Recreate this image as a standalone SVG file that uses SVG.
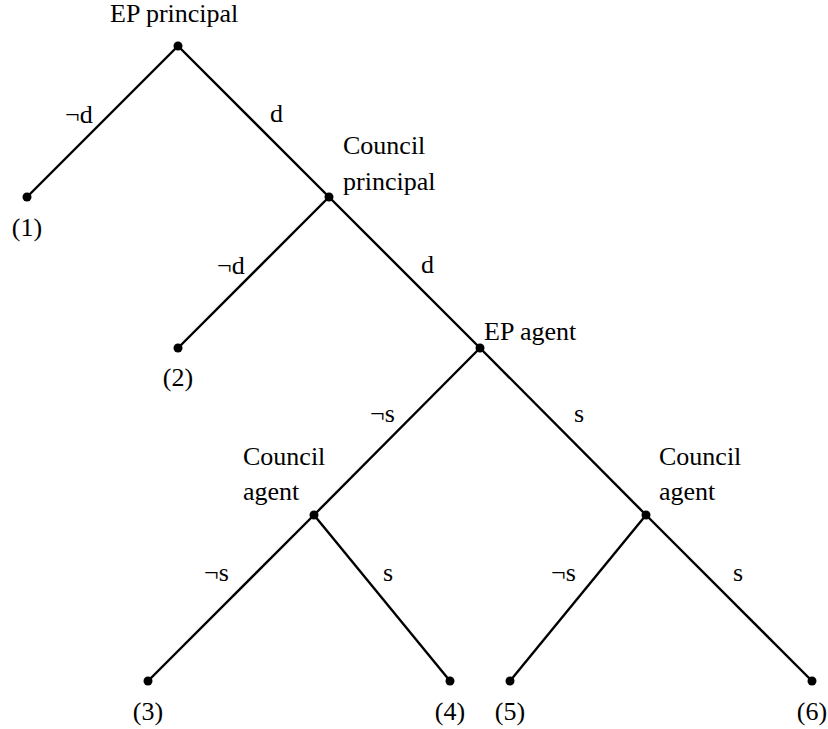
<svg xmlns="http://www.w3.org/2000/svg" width="828" height="729" viewBox="0 0 828 729">
<defs>
<style type="text/css">
.t{font-family:"Liberation Serif","DejaVu Serif",serif;font-size:26px;fill:#000}
.leaf{text-anchor:middle}
.edge{stroke:#000;stroke-width:2.4;fill:none}
.dot{fill:#000}
</style>
</defs>
<rect width="828" height="729" fill="#fff"/>
<g id="connectors">
<line class="edge" x1="178" y1="46" x2="27" y2="197"/>
<line class="edge" x1="178" y1="46" x2="329" y2="197"/>
<line class="edge" x1="329" y1="197" x2="178" y2="348"/>
<line class="edge" x1="329" y1="197" x2="480" y2="348"/>
<line class="edge" x1="480" y1="348" x2="314" y2="515"/>
<line class="edge" x1="480" y1="348" x2="646" y2="515"/>
<line class="edge" x1="314" y1="515" x2="148" y2="681"/>
<line class="edge" x1="314" y1="515" x2="450" y2="681"/>
<line class="edge" x1="646" y1="515" x2="510" y2="681"/>
<line class="edge" x1="646" y1="515" x2="812" y2="681"/>
<text class="t" x="65" y="123">¬d</text>
<text class="t" x="270" y="122">d</text>
<text class="t" x="217" y="274">¬d</text>
<text class="t" x="421" y="273">d</text>
<text class="t" x="370" y="422">¬s</text>
<text class="t" x="574" y="422">s</text>
<text class="t" x="204" y="581">¬s</text>
<text class="t" x="383" y="581">s</text>
<text class="t" x="551" y="581">¬s</text>
<text class="t" x="733" y="581">s</text>
</g>
<g id="ep-principal">
<circle class="dot" cx="178" cy="46" r="4.5"/>
<text class="t" x="110" y="22">EP principal</text>
</g>
<g id="leaf1">
<circle class="dot" cx="27" cy="197" r="4.5"/>
<text class="t leaf" x="27" y="236">(1)</text>
</g>
<g id="council-principal">
<circle class="dot" cx="329" cy="197" r="4.5"/>
<text class="t" x="343" y="154">Council</text>
<text class="t" x="343" y="190">principal</text>
</g>
<g id="leaf2">
<circle class="dot" cx="178" cy="348" r="4.5"/>
<text class="t leaf" x="178" y="386">(2)</text>
</g>
<g id="ep-agent">
<circle class="dot" cx="480" cy="348" r="4.5"/>
<text class="t" x="484" y="340">EP agent</text>
</g>
<g id="council-agent-left">
<circle class="dot" cx="314" cy="515" r="4.5"/>
<text class="t" x="243" y="465">Council</text>
<text class="t" x="243" y="500">agent</text>
</g>
<g id="council-agent-right">
<circle class="dot" cx="646" cy="515" r="4.5"/>
<text class="t" x="659" y="465">Council</text>
<text class="t" x="659" y="500">agent</text>
</g>
<g id="leaf3">
<circle class="dot" cx="148" cy="681" r="4.5"/>
<text class="t leaf" x="148" y="720">(3)</text>
</g>
<g id="leaf4">
<circle class="dot" cx="450" cy="681" r="4.5"/>
<text class="t leaf" x="450" y="720">(4)</text>
</g>
<g id="leaf5">
<circle class="dot" cx="510" cy="681" r="4.5"/>
<text class="t leaf" x="510" y="720">(5)</text>
</g>
<g id="leaf6">
<circle class="dot" cx="812" cy="681" r="4.5"/>
<text class="t leaf" x="812" y="720">(6)</text>
</g>
</svg>
